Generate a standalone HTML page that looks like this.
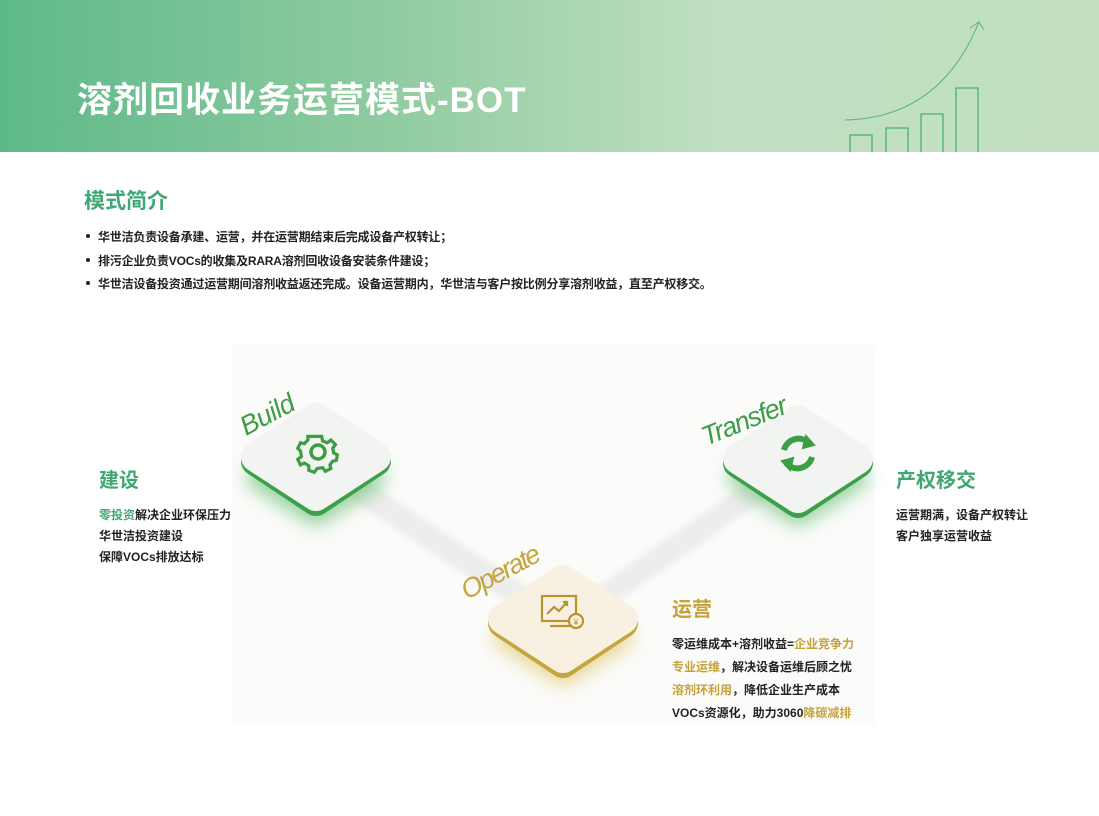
<!DOCTYPE html>
<html><head><meta charset="utf-8"><style>
*{margin:0;padding:0;box-sizing:border-box}
body{width:1099px;height:816px;background:#fff;position:relative;overflow:hidden;font-family:"Liberation Sans","Noto Sans CJK SC",sans-serif}
.hdr{position:absolute;left:0;top:0;width:1099px;height:152px;background:linear-gradient(90deg,#5db98a 0%,#8fcba0 35%,#bfdfc0 65%,#c2e0bf 100%)}
.t{position:absolute;left:77px;top:72px;color:#fff;font-size:35px;font-weight:bold;letter-spacing:1px}
.h2{position:absolute;left:84px;top:185px;font-size:21px;font-weight:bold;color:#3fa773}
ul{position:absolute;left:86px;top:228px;list-style:none;font-size:12px;color:#222;font-weight:bold;letter-spacing:-0.2px}
ul li{height:23.5px;padding-left:12px;position:relative}
ul li:before{content:"";position:absolute;left:0;top:6px;width:4px;height:4px;border-radius:50%;background:#222}
.blk{position:absolute;font-size:12px;font-weight:bold;color:#222;line-height:21px}
.blk h3{font-size:20px;margin-bottom:11px;line-height:26px}
.g{color:#3fa773}.y{color:#c5a23a}
</style></head><body>
<div class="hdr">
<svg width="1099" height="152" style="position:absolute;left:0;top:0">
<g fill="none" stroke="#5cb487" stroke-width="1.5">
<rect x="850" y="135" width="22" height="20"/><rect x="886" y="128" width="22" height="30"/><rect x="921" y="114" width="22" height="40"/><rect x="956" y="88" width="22" height="70"/>
<path d="M845 120 Q940 118 979 22" stroke-width="1"/><path d="M970 28 L979 22 L984 30" stroke-width="1"/>
</g></svg>
<div class="t">溶剂回收业务运营模式-BOT</div></div>
<div class="h2">模式简介</div>
<ul>
<li>华世洁负责设备承建、运营，并在运营期结束后完成设备产权转让；</li>
<li>排污企业负责VOCs的收集及RARA溶剂回收设备安装条件建设；</li>
<li>华世洁设备投资通过运营期间溶剂收益返还完成。设备运营期内，华世洁与客户按比例分享溶剂收益，直至产权移交。</li>
</ul>
<svg width="1099" height="816" style="position:absolute;left:0;top:0">
<defs>
<filter id="b" x="-50%" y="-50%" width="200%" height="200%"><feGaussianBlur stdDeviation="9"/></filter>
<filter id="s" x="-50%" y="-50%" width="200%" height="200%"><feGaussianBlur stdDeviation="3"/></filter>
</defs>
<rect x="232" y="345" width="643" height="380" fill="#fbfbfa"/>
<path d="M316 462 L563 625 L798 462" fill="none" stroke="#ededed" stroke-width="24" filter="url(#s)"/>
<g stroke-linejoin="round">
<path d="M256 478 L316 440 L376 478 L316 516Z" fill="#6fc27c" stroke="#6fc27c" stroke-width="20" filter="url(#b)" opacity=".7"/>
<path d="M738 478 L798 440 L858 478 L798 516Z" fill="#6fc27c" stroke="#6fc27c" stroke-width="20" filter="url(#b)" opacity=".7"/>
<path d="M503 638 L563 600 L623 638 L563 676Z" fill="#e0c970" stroke="#e0c970" stroke-width="20" filter="url(#b)" opacity=".7"/>
<path d="M256 461 L316 421 L376 461 L316 501Z" fill="#3d9f4a" stroke="#3d9f4a" stroke-width="30"/>
<path d="M738 463 L798 423 L858 463 L798 503Z" fill="#3d9f4a" stroke="#3d9f4a" stroke-width="30"/>
<path d="M503 623 L563 583 L623 623 L563 663Z" fill="#c4a540" stroke="#c4a540" stroke-width="30"/>
<path d="M256 457 L316 418 L376 457 L316 496Z" fill="#f1f4f1" stroke="#f1f4f1" stroke-width="30"/>
<path d="M738 459 L798 420 L858 459 L798 498Z" fill="#f1f4f1" stroke="#f1f4f1" stroke-width="30"/>
<path d="M503 619 L563 580 L623 619 L563 658Z" fill="#f8f1e2" stroke="#f8f1e2" stroke-width="30"/>
</g>
<g transform="translate(318,452)" fill="none" stroke="#3c9d45" stroke-width="3.5">
<circle r="7"/>
<path d="M-4 -17 L4 -17 L5 -12 L10 -10 L14 -13 L19 -8 L16 -4 L17 1 L21 3 L20 9 L16 10 L13 14 L14 18 L8 21 L5 17 L-1 18 L-4 22 L-10 20 L-10 15 L-15 12 L-19 14 L-22 8 L-18 5 L-19 -1 L-22 -4 L-19 -10 L-15 -9 L-11 -13 L-11 -17Z" transform="scale(.92)"/>
</g>
<g transform="translate(798,453)" fill="none" stroke="#3c9d45" stroke-width="6">
<path d="M-14 -3 A15 15 0 0 1 12 -9"/><path d="M14 4 A15 15 0 0 1 -12 10"/>
<path d="M8 -17 L16 -8 L5 -5Z" fill="#3c9d45" stroke-width="2"/><path d="M-8 17 L-16 8 L-5 5Z" fill="#3c9d45" stroke-width="2"/>
</g>
<g fill="none" stroke="#b8942c" stroke-width="2.2">
<rect x="542" y="596" width="34" height="25"/><path d="M550 626 L575 626"/>
<path d="M547 614 L554 607 L559 611 L567 602"/><path d="M563 602 L567 602 L567 606"/>
<circle cx="576" cy="621" r="7" fill="#f8f1e2"/>
</g>
<text x="576" y="625" font-size="9" fill="#b8942c" text-anchor="middle" font-family="Liberation Sans">¥</text>
<g font-family="Liberation Sans" font-style="italic" font-size="27">
<text transform="translate(246,436) rotate(-28)" fill="#3c9d45" textLength="58">Build</text>
<text transform="translate(706,446) rotate(-22)" fill="#3c9d45" textLength="90">Transfer</text>
<text transform="translate(467,600) rotate(-28)" fill="#c4a540" textLength="86">Operate</text>
</g>
</svg>
<div class="blk" style="left:99px;top:468px"><h3 class="g">建设</h3><span class="g">零投资</span>解决企业环保压力<br>华世洁投资建设<br>保障VOCs排放达标</div>
<div class="blk" style="left:896px;top:468px"><h3 class="g">产权移交</h3>运营期满，设备产权转让<br>客户独享运营收益</div>
<div class="blk" style="left:672px;top:597px;line-height:23px"><h3 class="y" style="margin-bottom:10px">运营</h3>零运维成本+溶剂收益=<span class="y">企业竞争力</span><br><span class="y">专业运维</span>，解决设备运维后顾之忧<br><span class="y">溶剂环利用</span>，降低企业生产成本<br>VOCs资源化，助力3060<span class="y">降碳减排</span></div>
</body></html>
